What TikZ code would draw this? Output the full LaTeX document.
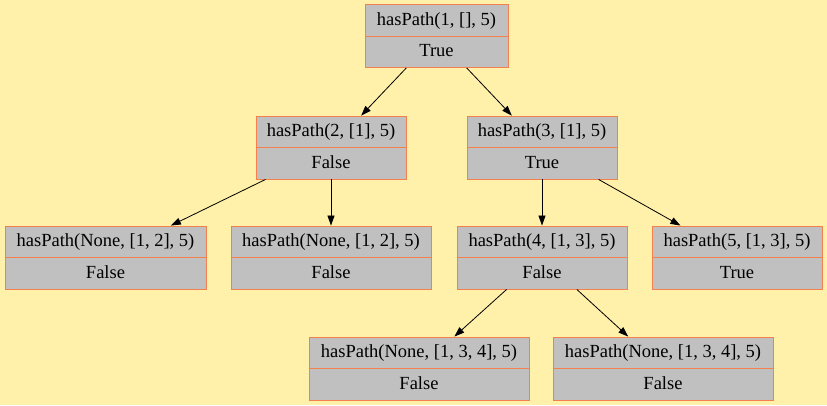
\documentclass[tikz,border=0pt]{standalone}
\usepackage{fontspec}
\setmainfont{Liberation Serif}
\usetikzlibrary{shapes.multipart,arrows.meta}
\definecolor{bgc}{HTML}{FFF0AA}
\definecolor{boxfill}{HTML}{C0C0C0}
\definecolor{boxline}{HTML}{F4804E}
\tikzset{
  rec/.style={rectangle split, rectangle split parts=2, draw=boxline, fill=boxfill,
    line width=0.9pt, inner xsep=4pt, inner ysep=5.8pt, font=\fontsize{18.5pt}{22pt}\selectfont,
    rectangle split part align=center},
  edge/.style={draw=black, line width=0.8pt, -{Triangle[length=10pt,width=7pt]}}
}
\newcommand{\rs}{\rule[-4.5pt]{0pt}{19pt}}
\begin{document}
\begin{tikzpicture}[x=1pt,y=-1pt]
\fill[bgc] (0,0) rectangle (827,405);
\useasboundingbox (0,0) rectangle (827,405);
\node[rec, minimum width=143pt] (r) at (436.5,36) {\rs hasPath(1, [], 5)\nodepart{two}\rs True};
\node[rec, minimum width=150pt] (n2) at (331,147.5) {\rs hasPath(2, [1], 5)\nodepart{two}\rs False};
\node[rec, minimum width=150pt] (n3) at (542,147.5) {\rs hasPath(3, [1], 5)\nodepart{two}\rs True};
\node[rec, minimum width=201pt] (a) at (105.5,257.5) {\rs hasPath(None, [1, 2], 5)\nodepart{two}\rs False};
\node[rec, minimum width=200pt] (b) at (331,257.5) {\rs hasPath(None, [1, 2], 5)\nodepart{two}\rs False};
\node[rec, minimum width=170pt] (c) at (542,257.5) {\rs hasPath(4, [1, 3], 5)\nodepart{two}\rs False};
\node[rec, minimum width=170pt] (d) at (737,257.5) {\rs hasPath(5, [1, 3], 5)\nodepart{two}\rs True};
\node[rec, minimum width=220pt] (e) at (419,368.5) {\rs hasPath(None, [1, 3, 4], 5)\nodepart{two}\rs False};
\node[rec, minimum width=220pt] (f) at (663,368.5) {\rs hasPath(None, [1, 3, 4], 5)\nodepart{two}\rs False};
\draw[edge] (r) -- (n2);
\draw[edge] (r) -- (n3);
\draw[edge] (n2) -- (a);
\draw[edge] (n2) -- (b);
\draw[edge] (n3) -- (c);
\draw[edge] (n3) -- (d);
\draw[edge] (c) -- (e);
\draw[edge] (c) -- (f);
\end{tikzpicture}
\end{document}
